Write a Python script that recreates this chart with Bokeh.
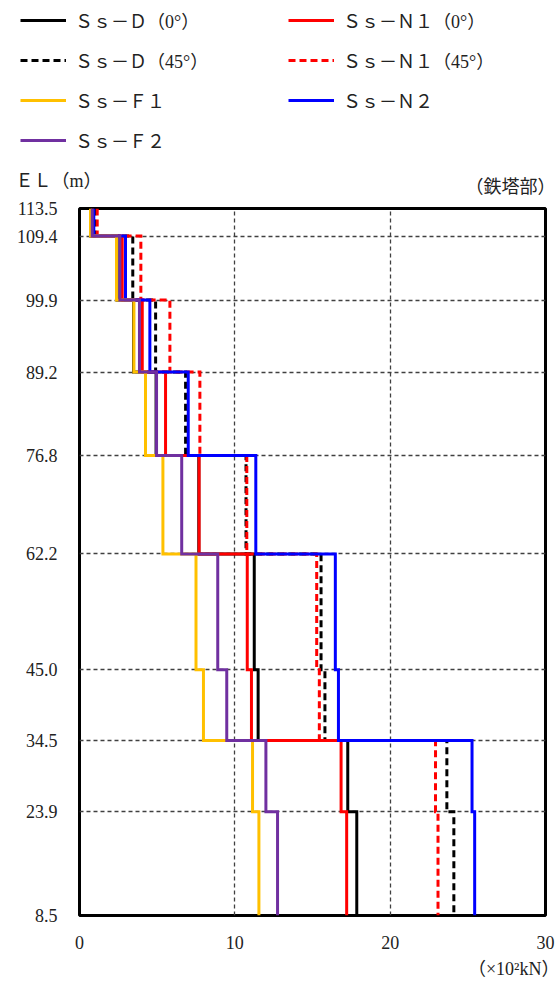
from bokeh.plotting import figure
from bokeh.layouts import column
from bokeh.models import Range1d, FixedTicker, Legend, LegendItem, Title
from bokeh.core.properties import value
from bokeh.embed import file_html
from bokeh.resources import INLINE

# ---- data ----
EL = [113.5, 109.4, 99.9, 89.2, 76.8, 62.2, 45.0, 34.5, 23.9, 8.5]
EL_LABELS = ["113.5", "109.4", "99.9", "89.2", "76.8", "62.2", "45.0", "34.5", "23.9", "8.5"]
X_TICKS = [0, 10, 20, 30]

ss_d_0 = [0.72, 2.42, 3.48, 4.93, 7.68, 11.25, 11.50, 17.27, 17.85]
ss_d_45 = [0.98, 3.43, 4.90, 6.83, 10.72, 15.55, 15.80, 23.65, 24.10]
ss_f1 = [0.71, 2.38, 3.50, 4.25, 5.37, 7.50, 7.98, 11.14, 11.55]
ss_f2 = [0.82, 2.60, 3.86, 4.96, 6.58, 8.90, 9.48, 12.00, 12.75]
ss_n1_0 = [0.82, 2.75, 4.04, 5.54, 7.70, 10.80, 11.07, 16.84, 17.20]
ss_n1_45 = [1.14, 3.95, 5.82, 7.75, 10.77, 15.27, 15.44, 22.92, 23.08]
ss_n2 = [0.92, 2.96, 4.53, 7.00, 11.35, 16.47, 16.67, 25.27, 25.44]

LEGEND_ORDER = ["Ｓｓ－Ｄ（0°）", "Ｓｓ－Ｄ（45°）", "Ｓｓ－Ｆ１", "Ｓｓ－Ｆ２",
                "Ｓｓ－Ｎ１（0°）", "Ｓｓ－Ｎ１（45°）", "Ｓｓ－Ｎ２"]
Y_CAPTION = "ＥＬ（m）"
PART_CAPTION = "（鉄塔部）"
X_CAPTION = "（×10²kN）"

SERIF = "'Liberation Serif', 'Noto Sans CJK JP', serif"
TXT = "#222222"
HEAD_H = 197


def steps(vals):
    xs, ys = [], []
    for i, v in enumerate(vals):
        xs += [v, v]
        ys += [EL[i], EL[i + 1]]
    return xs, ys


styles = {
    "Ｓｓ－Ｄ（0°）": (ss_d_0, "black", "solid"),
    "Ｓｓ－Ｄ（45°）": (ss_d_45, "black", "7 4"),
    "Ｓｓ－Ｎ１（0°）": (ss_n1_0, "#FF0000", "solid"),
    "Ｓｓ－Ｎ１（45°）": (ss_n1_45, "#FF0000", "7 4"),
    "Ｓｓ－Ｎ２": (ss_n2, "#0000FF", "solid"),
    "Ｓｓ－Ｆ１": (ss_f1, "#FFC000", "solid"),
    "Ｓｓ－Ｆ２": (ss_f2, "#7030A0", "solid"),
}
draw_order = ["Ｓｓ－Ｄ（0°）", "Ｓｓ－Ｄ（45°）", "Ｓｓ－Ｎ１（0°）", "Ｓｓ－Ｎ１（45°）",
              "Ｓｓ－Ｎ２", "Ｓｓ－Ｆ１", "Ｓｓ－Ｆ２"]

# ---- header: legend and captions ----
top = figure(width=560, height=HEAD_H, output_backend="svg", toolbar_location=None,
             x_range=Range1d(0, 560), y_range=Range1d(HEAD_H, 0),
             x_axis_type=None, y_axis_type=None, title_location=None, frame_align=False,
             min_border_left=0, min_border_right=0, min_border_top=0, min_border_bottom=0)
top.outline_line_color = None
top.xgrid.visible = False
top.ygrid.visible = False

top_rend = {}
for name in LEGEND_ORDER:
    vals, color, dash = styles[name]
    xs, ys = steps(vals)
    top_rend[name] = top.line(xs, ys, line_color=color, line_width=3, line_dash=dash,
                              visible=False)

legend = Legend(items=[LegendItem(label=n, renderers=[top_rend[n]]) for n in LEGEND_ORDER],
                orientation="vertical", nrows=4, location=(20, 44),
                glyph_width=46, glyph_height=20, label_height=20, label_standoff=9,
                spacing=14, label_width=199, padding=0, margin=0,
                border_line_alpha=0, background_fill_alpha=0,
                label_text_font=SERIF, label_text_font_size="18px", label_text_color=TXT)
top.add_layout(legend, "center")

top.text(x=[15], y=[180], text=[Y_CAPTION], text_font=value(SERIF), text_font_size="18px",
         text_baseline="middle", text_align="left", text_color=TXT)
top.text(x=[555], y=[186.5], text=[PART_CAPTION], text_font=value(SERIF), text_font_size="18px",
         text_baseline="middle", text_align="right", text_color=TXT)

# ---- main chart ----
p = figure(width=560, height=983 - HEAD_H, output_backend="svg", toolbar_location=None,
           x_range=Range1d(0, 30), y_range=Range1d(8.5, 113.5), title_location=None,
           frame_align=False,
           min_border_left=79, min_border_right=15, min_border_top=208 - HEAD_H,
           min_border_bottom=68)

p.outline_line_color = "black"
p.outline_line_width = 3

for ax in (p.xaxis[0], p.yaxis[0]):
    ax.axis_line_color = None
    ax.major_tick_line_color = None
    ax.minor_tick_line_color = None
    ax.major_label_text_font = SERIF
    ax.major_label_text_font_size = "18px"
    ax.major_label_text_color = TXT

p.xaxis[0].ticker = FixedTicker(ticks=X_TICKS)
p.xaxis[0].major_label_standoff = 14
p.yaxis[0].ticker = FixedTicker(ticks=EL)
p.yaxis[0].major_label_overrides = {v: s for v, s in zip(EL, EL_LABELS)}
p.yaxis[0].major_label_standoff = 16

p.xgrid[0].ticker = FixedTicker(ticks=[10, 20])
p.ygrid[0].ticker = FixedTicker(ticks=EL)
for g in (p.xgrid[0], p.ygrid[0]):
    g.grid_line_color = "#404040"
    g.grid_line_dash = "4 3"
    g.grid_line_width = 1.3

for name in draw_order:
    vals, color, dash = styles[name]
    xs, ys = steps(vals)
    p.line(xs, ys, line_color=color, line_width=3, line_dash=dash, line_join="miter")

p.add_layout(Title(text=X_CAPTION, align="right", offset=-14,
                   text_font=SERIF, text_font_size="18px",
                   text_font_style="normal", text_color=TXT), "below")

layout = column(top, p, spacing=0)
open("out.html", "w").write(file_html(layout, INLINE))
